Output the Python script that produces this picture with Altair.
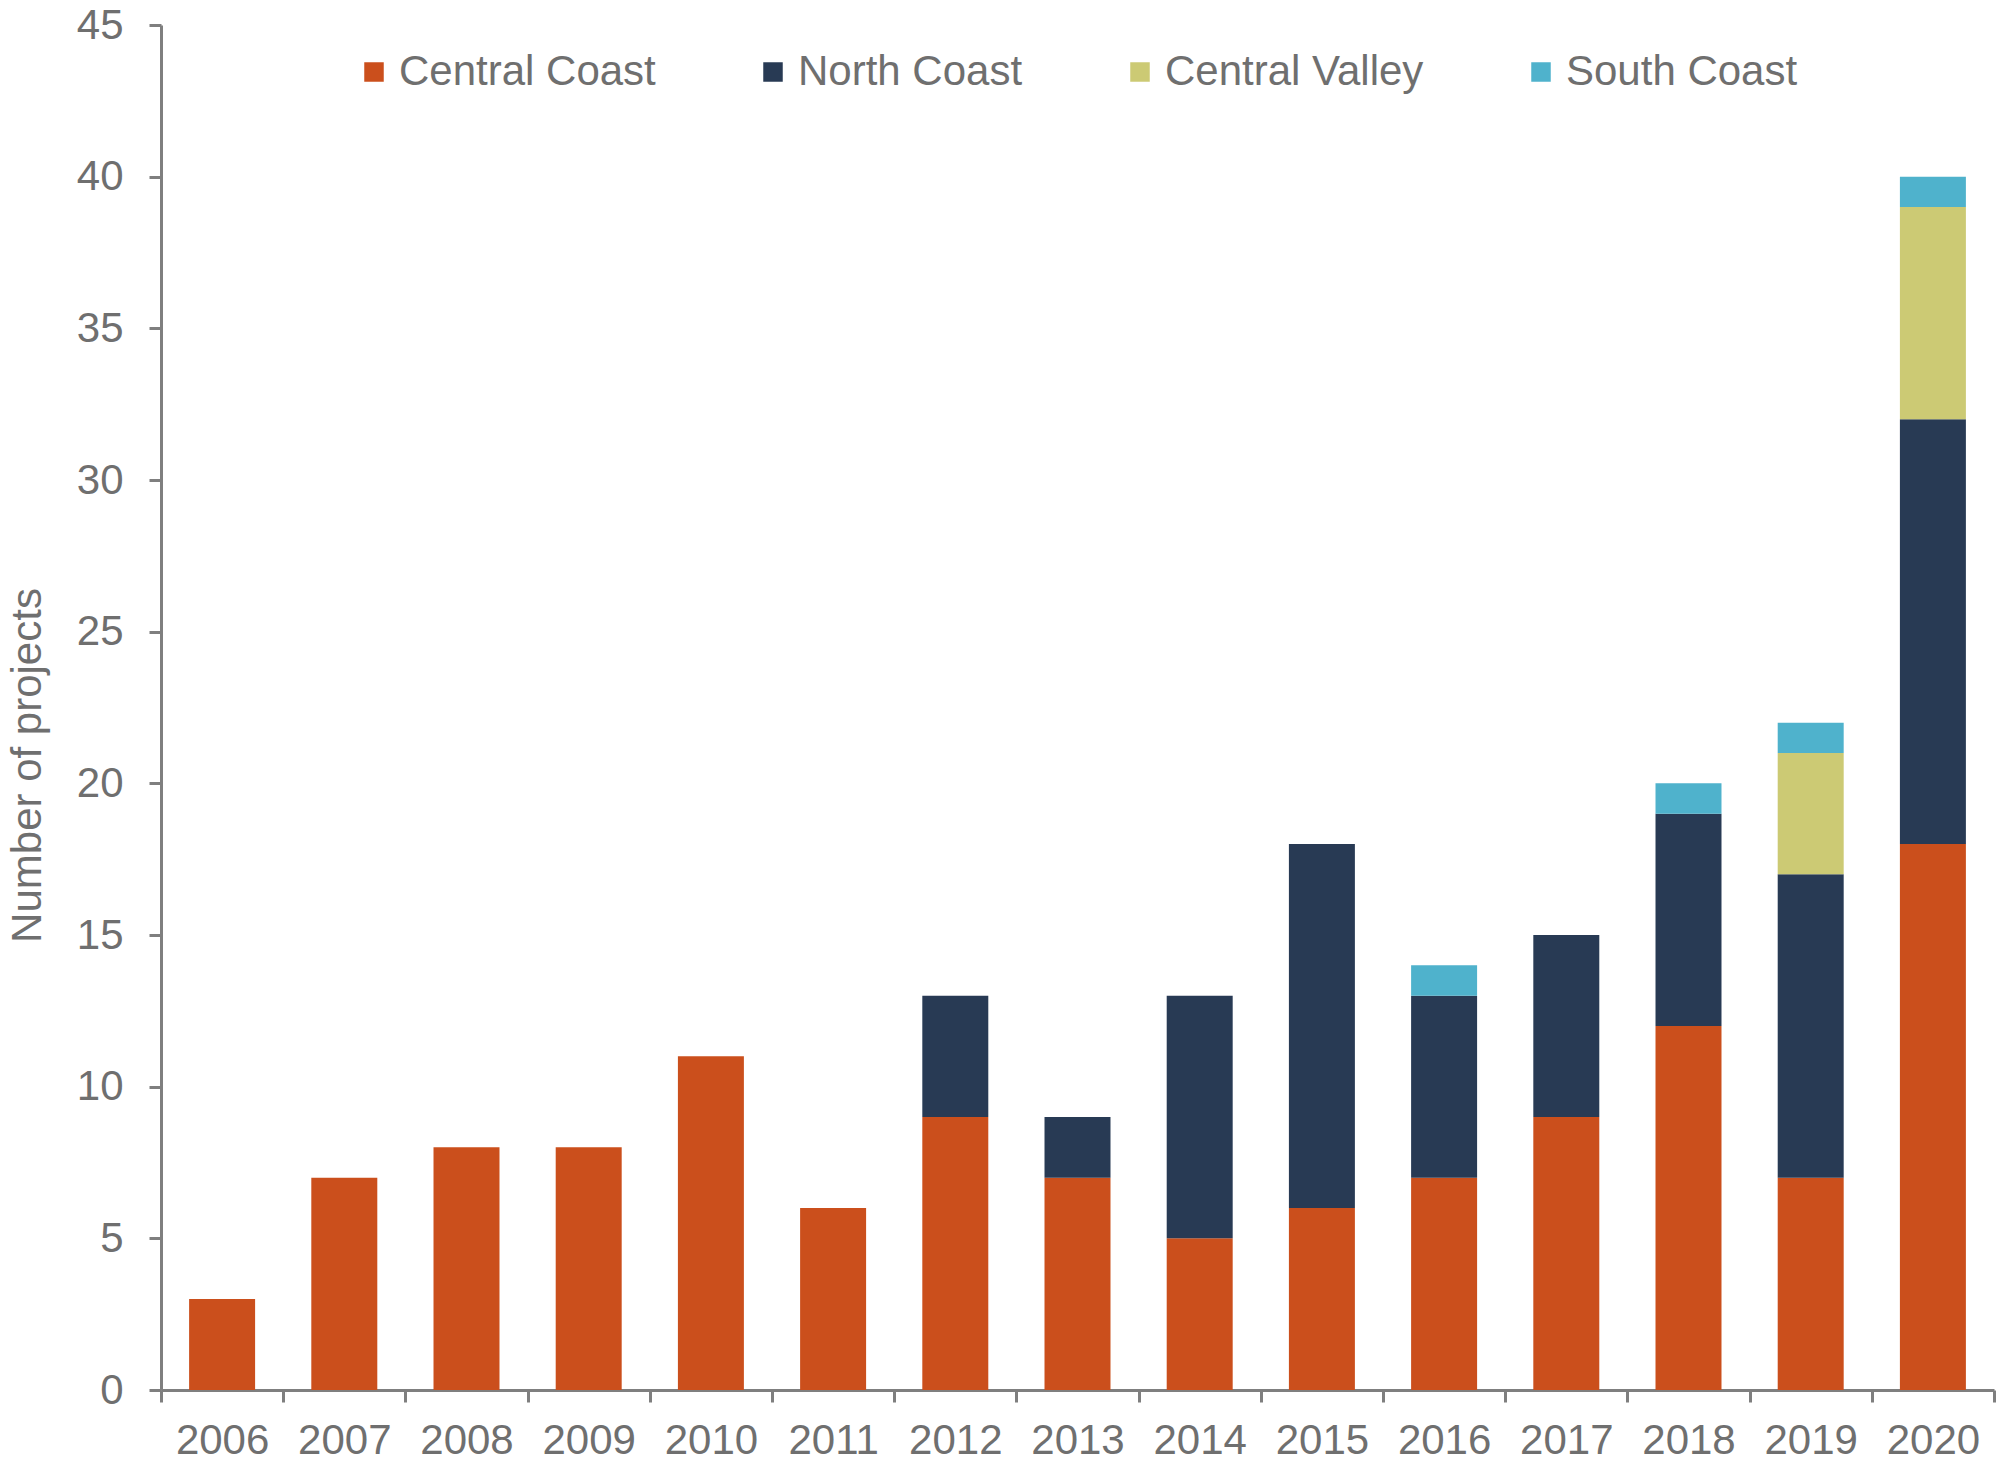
import altair as alt
import pandas as pd

years = [str(y) for y in range(2006, 2021)]
regions = ["Central Coast", "North Coast", "Central Valley", "South Coast"]
colors = ["#CB4F1C", "#283A54", "#CCCA74", "#4FB2CC"]

central_coast = [3, 7, 8, 8, 11, 6, 9, 7, 5, 6, 7, 9, 12, 7, 18]
north_coast = [0, 0, 0, 0, 0, 0, 4, 2, 8, 12, 6, 6, 7, 10, 14]
central_valley = [0, 0, 0, 0, 0, 0, 0, 0, 0, 0, 0, 0, 0, 4, 7]
south_coast = [0, 0, 0, 0, 0, 0, 0, 0, 0, 0, 1, 0, 1, 1, 1]

series = [central_coast, north_coast, central_valley, south_coast]
rows = []
for ri, (name, vals) in enumerate(zip(regions, series)):
    for y, v in zip(years, vals):
        if v > 0:
            rows.append({"Year": y, "Region": name, "Projects": v, "order": ri})
df = pd.DataFrame(rows)

TEXT = "#6f6f6f"
AXIS = "#7f7f7f"
FONT = "Liberation Sans"
FS = 42
W, H = 1833, 1365

bars = alt.Chart(df).mark_bar(width=alt.RelativeBandSize(0.54)).encode(
    x=alt.X("Year:N", sort=years,
            scale=alt.Scale(paddingInner=0, paddingOuter=0),
            axis=alt.Axis(title=None, labelAngle=0, tickBand="extent",
                          tickSize=12, labelPadding=18, domainColor=AXIS,
                          tickColor=AXIS, domainWidth=3, tickWidth=3,
                          labelFontSize=FS, labelColor=TEXT, labelFont=FONT)),
    y=alt.Y("Projects:Q", stack="zero",
            scale=alt.Scale(domain=[0, 45], nice=False),
            axis=alt.Axis(title="Number of projects", values=list(range(0, 46, 5)),
                          grid=False, tickSize=12, labelPadding=26,
                          domainColor=AXIS, tickColor=AXIS, domainWidth=3, tickWidth=3,
                          labelFontSize=FS, labelColor=TEXT, labelFont=FONT,
                          titleFontSize=FS, titleColor=TEXT, titleFontWeight="normal",
                          titleFont=FONT,
                          titleAngle=270, titleAlign="center", titleBaseline="middle",
                          titleX=-134, titleY=740)),
    color=alt.Color("Region:N", sort=regions,
                    scale=alt.Scale(domain=regions, range=colors),
                    legend=alt.Legend(title=None, orient="none", direction="horizontal",
                                      columns=4, legendX=192, legendY=26,
                                      symbolType="square", symbolSize=380,
                                      symbolStrokeWidth=0, labelFontSize=FS,
                                      labelFont=FONT,
                                      labelColor=TEXT, labelOffset=4,
                                      columnPadding=96, labelLimit=600)),
    order=alt.Order("order:Q", sort="ascending"),
)

chart = bars.properties(
    width=W, height=H,
    padding={"left": 161, "top": 25, "right": 6, "bottom": 79},
    autosize="none",
).configure(font=FONT).configure_view(stroke=None)

chart.save("out.html", embed_options={"renderer": "svg", "actions": False})
